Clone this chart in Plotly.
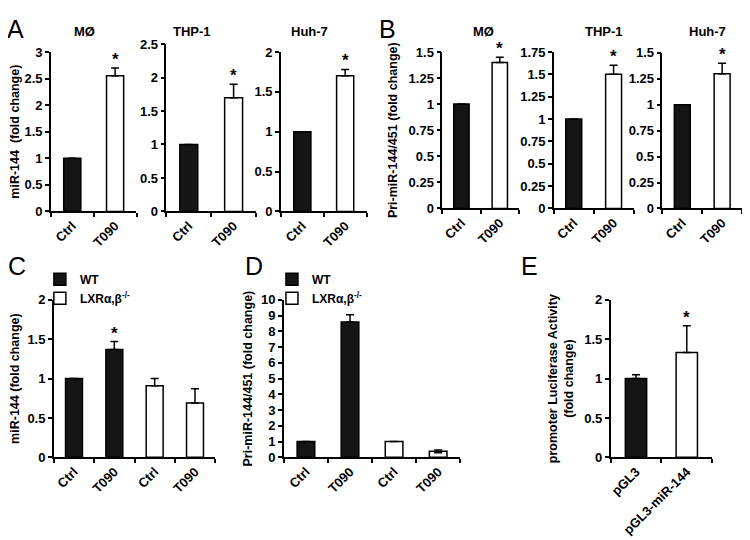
import plotly.graph_objects as go

W, H = 750, 540
OFF = 8  # page body margin shifts the figure by 8px
FONT = "Arial, Liberation Sans, sans-serif"

# ---- data ----
cells = ["MØ", "THP-1", "Huh-7"]
treat = ["Ctrl", "T090"]

# A: miR-144 fold change
a_vals = [[1.0, 2.55], [1.0, 1.70], [1.0, 1.70]]
a_errs = [[0, 0.15], [0, 0.20], [0, 0.08]]
a_ymax = [3, 2.5, 2]

# B: Pri-miR-144/451 fold change
b_vals = [[1.0, 1.40], [1.0, 1.50], [1.0, 1.30]]
b_errs = [[0, 0.05], [0, 0.10], [0, 0.10]]
b_ymax = [1.5, 1.75, 1.5]

# C / D: WT vs LXRa,b-/-
cd_cats = ["Ctrl", "T090", "Ctrl", "T090"]
c_wt = [1.0, 1.37]
c_wt_err = [0, 0.10]
c_ko = [0.91, 0.69]
c_ko_err = [0.09, 0.18]
d_wt = [1.0, 8.6]
d_wt_err = [0, 0.45]
d_ko = [1.0, 0.38]
d_ko_err = [0, 0.08]

# E: promoter luciferase
e_cats = ["pGL3", "pGL3-miR-144"]
e_vals = [1.0, 1.33]
e_errs = [0.05, 0.34]

# axis boxes in px (page coords): left, right, top, bottom
boxes = {
    1: (48, 134, 46, 210), 2: (164, 254, 38, 210), 3: (279, 365, 46, 210),
    4: (441, 518, 46, 207), 5: (553, 633, 46, 207), 6: (662, 742, 47, 207),
    7: (51, 213, 301, 463), 8: (282, 459, 301, 463), 9: (610, 712, 301, 463),
}


def px(x):
    return (x - OFF) / W


def py(y):
    return 1 - (y - OFF) / H


fig = go.Figure()
tickfont = dict(family=FONT, size=13, color="black", weight="bold")


def sfx(n):
    return "" if n == 1 else str(n)


def setup_axes(n, cats, ymax, dtick, ytitle=None, standoff=8):
    l, r, t, b = boxes[n]
    k = len(cats)
    fig.layout["xaxis" + sfx(n)] = dict(
        domain=[px(l), px(r)], anchor="y" + sfx(n), range=[-0.5, k - 0.5],
        tickvals=list(range(k)), ticktext=cats, tickangle=-45, ticks="",
        showline=True, linecolor="black", linewidth=1.5, showgrid=False,
        zeroline=False, tickfont=tickfont, fixedrange=True,
        minor=dict(tickmode="array", tickvals=[i - 0.5 for i in range(k + 1)],
                   ticks="outside", ticklen=4, tickwidth=1.5, tickcolor="black"),
    )
    fig.layout["yaxis" + sfx(n)] = dict(
        domain=[py(b), py(t)], anchor="x" + sfx(n), range=[0, ymax],
        dtick=dtick, ticks="outside", ticklen=4, tickwidth=1.5, tickcolor="black",
        showline=True, linecolor="black", linewidth=1.5, showgrid=False,
        zeroline=False, tickfont=tickfont, fixedrange=True,
        title=dict(text=ytitle, font=dict(family=FONT, size=12.5, color="black",
                                          weight="bold"), standoff=standoff) if ytitle else None,
    )


def err(arr):
    return dict(type="data", symmetric=False, array=arr, arrayminus=[0] * len(arr),
                color="black", thickness=1.5, width=4)


def star(n, x, y):
    fig.add_annotation(x=x, y=y, xref="x" + sfx(n), yref="y" + sfx(n), text="*",
                       showarrow=False, yanchor="bottom", yshift=-3,
                       font=dict(family=FONT, size=17, color="black", weight="bold"))


def label(text, x, y, size, bold=True):
    fig.add_annotation(x=px(x), y=py(y), xref="paper", yref="paper", text=text,
                       showarrow=False, xanchor="center", yanchor="middle",
                       font=dict(family=FONT, size=size, color="black",
                                 weight="bold" if bold else "normal"))


def pair_panel(n, vals, errs, ymax, dtick, title, title_x, ytitle=None):
    setup_axes(n, treat, ymax, dtick, ytitle)
    fig.add_trace(go.Bar(x=[0, 1], y=vals, width=0.4, error_y=err(errs),
                         marker=dict(color=["#151515", "white"],
                                     line=dict(color="black", width=1.5)),
                         xaxis="x" + sfx(n), yaxis="y" + sfx(n), showlegend=False))
    star(n, 1, vals[1] + errs[1])
    label(title, title_x, 25, 13)


a_title_x = [82, 190, 308]
b_title_x = [482, 603, 707]
for i in range(3):
    pair_panel(i + 1, a_vals[i], a_errs[i], a_ymax[i], 0.5, cells[i], a_title_x[i],
               "miR-144  (fold change)" if i == 0 else None)
    pair_panel(i + 4, b_vals[i], b_errs[i], b_ymax[i], 0.25, cells[i], b_title_x[i],
               "Pri-miR-144/451 (fold change)" if i == 0 else None)

# C
setup_axes(7, cd_cats, 2, 0.5, "miR-144 (fold change)")
fig.add_trace(go.Bar(x=[0, 1], y=c_wt, width=0.42, error_y=err(c_wt_err), name="WT",
                     marker=dict(color="#151515", line=dict(color="black", width=1.5)),
                     xaxis="x7", yaxis="y7", legend="legend"))
fig.add_trace(go.Bar(x=[2, 3], y=c_ko, width=0.42, error_y=err(c_ko_err),
                     name="LXRα,β<sup>-/-</sup>",
                     marker=dict(color="white", line=dict(color="black", width=1.5)),
                     xaxis="x7", yaxis="y7", legend="legend"))
star(7, 1, c_wt[1] + c_wt_err[1])

# D
setup_axes(8, cd_cats, 10, 1, "Pri-miR-144/451 (fold change)", standoff=6)
fig.add_trace(go.Bar(x=[0, 1], y=d_wt, width=0.4, error_y=err(d_wt_err), name="WT",
                     marker=dict(color="#151515", line=dict(color="black", width=1.5)),
                     xaxis="x8", yaxis="y8", legend="legend2"))
fig.add_trace(go.Bar(x=[2, 3], y=d_ko, width=0.4,
                     error_y=dict(type="data", array=d_ko_err, color="black",
                                  thickness=1.5, width=4),
                     name="LXRα,β<sup>-/-</sup>",
                     marker=dict(color="white", line=dict(color="black", width=1.5)),
                     xaxis="x8", yaxis="y8", legend="legend2"))

# E
setup_axes(9, e_cats, 2, 0.5, "promoter Luciferase Activity<br>(fold change)")
fig.add_trace(go.Bar(x=[0, 1], y=e_vals, width=0.42, error_y=err(e_errs),
                     marker=dict(color=["#151515", "white"],
                                 line=dict(color="black", width=1.5)),
                     xaxis="x9", yaxis="y9", showlegend=False))
star(9, 1, e_vals[1] + e_errs[1])

# panel letters
for letter, lx, ly in [("A", 13, 22), ("B", 386, 22), ("C", 14, 266), ("D", 252, 266), ("E", 529, 266)]:
    label(letter, lx, ly, 25, bold=False)

legend_style = dict(font=dict(family=FONT, size=12, color="black", weight="bold"),
                    bgcolor="rgba(0,0,0,0)", yanchor="top", xanchor="left",
                    tracegroupgap=0, itemwidth=30)
fig.update_layout(
    width=W, height=H, margin=dict(l=0, r=0, t=0, b=0),
    plot_bgcolor="white", paper_bgcolor="white",
    legend=dict(x=px(37), y=py(265), **legend_style),
    legend2=dict(x=px(270), y=py(265), **legend_style),
    font=dict(family=FONT, color="black"),
)

fig.write_html("out.html")
